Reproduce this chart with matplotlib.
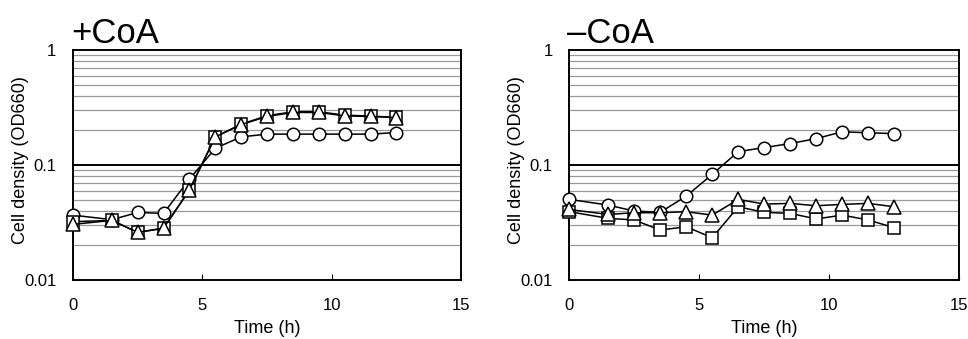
import numpy as np
import matplotlib.pyplot as plt
from matplotlib.ticker import FixedLocator, NullFormatter

plt.rcParams['font.family'] = ['Liberation Sans', 'DejaVu Sans']

time_h = [0, 1.5, 2.5, 3.5, 4.5, 5.5, 6.5, 7.5, 8.5, 9.5, 10.5, 11.5, 12.5]

# +CoA
plus_circle = [0.0367, 0.0335, 0.0387, 0.038, 0.0755, 0.14, 0.176, 0.186, 0.186, 0.186, 0.186, 0.186, 0.192]
plus_square = [0.0322, 0.033, 0.026, 0.0281, 0.0607, 0.176, 0.227, 0.269, 0.291, 0.291, 0.272, 0.267, 0.26]
plus_triangle = [0.0305, 0.033, 0.026, 0.0283, 0.061, 0.176, 0.225, 0.265, 0.287, 0.287, 0.268, 0.265, 0.259]

# -CoA
minus_circle = [0.0503, 0.0449, 0.0398, 0.0388, 0.0537, 0.083, 0.131, 0.142, 0.154, 0.17, 0.195, 0.191, 0.188]
minus_square = [0.0393, 0.0344, 0.0333, 0.0272, 0.0291, 0.0233, 0.0434, 0.0388, 0.038, 0.034, 0.0367, 0.0333, 0.0285]
minus_triangle = [0.0411, 0.0372, 0.0385, 0.0385, 0.0393, 0.0367, 0.0503, 0.0458, 0.0464, 0.0443, 0.0455, 0.0464, 0.0434]

panels = [
    ("+CoA", plus_circle, plus_square, plus_triangle, [0.0754, 0.174, 0.401, 0.678]),
    ("\u2013CoA", minus_circle, minus_square, minus_triangle, [0.588, 0.174, 0.403, 0.678]),
]

fig = plt.figure(figsize=(9.68, 3.39), dpi=100)

for title, circ, sq, tri, pos in panels:
    ax = fig.add_axes(pos)
    ax.set_yscale('log')
    ax.set_ylim(0.01, 1)
    ax.set_xlim(0, 15)

    # horizontal grid at every minor value, 0.1 drawn darker
    minors = [m * 10.0**e for e in (-2, -1) for m in range(2, 10)]
    for v in minors:
        ax.axhline(v, color='#999999', linewidth=0.9, zorder=0)
    ax.axhline(0.1, color='black', linewidth=1.4, zorder=0)

    style = dict(color='black', linewidth=1.1, markerfacecolor='white',
                 markeredgecolor='black', markeredgewidth=1.1, clip_on=False)
    ax.plot(time_h, circ, marker='o', markersize=9, zorder=3, **style)
    ax.plot(time_h, sq, marker='s', markersize=9, zorder=4, **style)
    ax.plot(time_h, tri, marker='^', markersize=10, zorder=5, **style)

    ax.yaxis.set_major_locator(FixedLocator([0.01, 0.1, 1]))
    ax.set_yticklabels(['0.01', '0.1', '1'])
    ax.yaxis.set_minor_formatter(NullFormatter())
    ax.tick_params(axis='y', which='both', length=0, labelsize=12, pad=12)
    ax.set_xticks([0, 5, 10, 15])
    ax.tick_params(axis='x', direction='in', length=4, labelsize=12, pad=13)

    for s in ax.spines.values():
        s.set_linewidth(1.4)

    ax.set_xlabel("Time (h)", fontsize=13, labelpad=5)
    ax.set_ylabel("Cell density (OD660)", fontsize=13)
    ax.yaxis.set_label_coords(-0.114, 0.52)
    ax.set_title(title, fontsize=25, loc='left', pad=3, x=-0.005)

fig.savefig("out.png", dpi=100)
